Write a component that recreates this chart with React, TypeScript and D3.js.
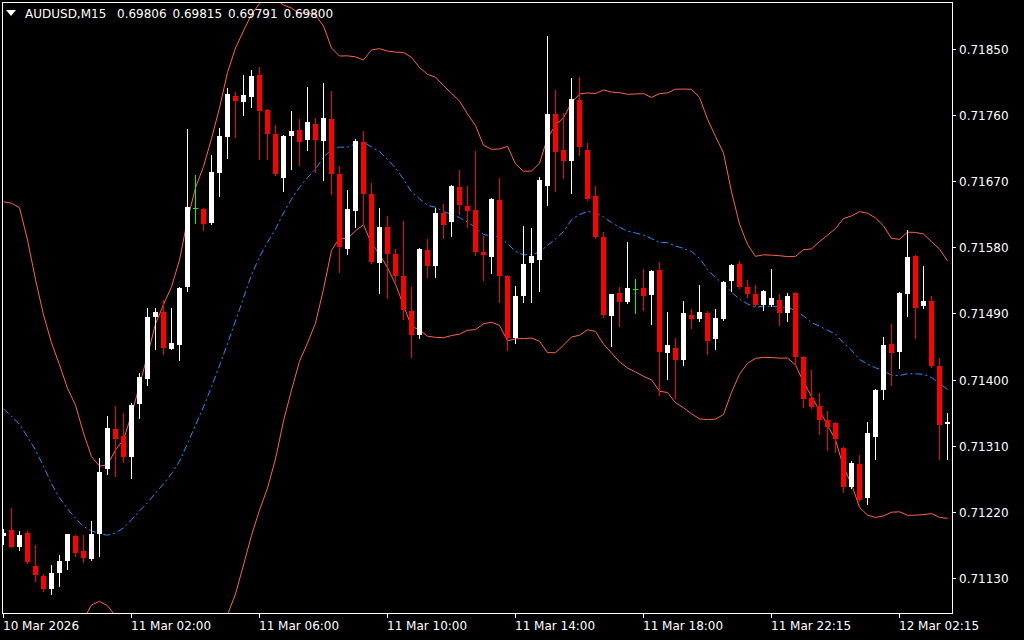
import React from "react";
import * as d3 from "d3";

const symbolTitle = "AUDUSD,M15";
const titleValues = ["0.69806", "0.69815", "0.69791", "0.69800"];

const opens = [0.71187,0.71195,0.71172,0.71191,0.71146,0.71132,0.71115,0.71136,0.71153,0.71187,0.71166,0.71156,0.71190,0.71278,0.71333,0.71323,0.71294,0.71367,0.71401,0.71485,0.71492,0.71442,0.71447,0.71526,0.71633,0.71632,0.71613,0.71681,0.71730,0.71786,0.71778,0.71785,0.71815,0.71767,0.71734,0.71675,0.71731,0.71740,0.71726,0.71748,0.71725,0.71755,0.71680,0.71578,0.71629,0.71723,0.71653,0.71558,0.71608,0.71571,0.71541,0.71493,0.71461,0.71576,0.71554,0.71627,0.71615,0.71662,0.71636,0.71631,0.71573,0.71567,0.71644,0.71541,0.71457,0.71514,0.71558,0.71563,0.71664,0.71761,0.71712,0.71697,0.71781,0.71712,0.71650,0.71594,0.71487,0.71518,0.71505,0.71523,0.71525,0.71515,0.71549,0.71436,0.71443,0.71426,0.71488,0.71483,0.71490,0.71455,0.71483,0.71534,0.71557,0.71526,0.71516,0.71501,0.71501,0.71508,0.71490,0.71518,0.71431,0.71375,0.71364,0.71345,0.71341,0.71307,0.71254,0.71285,0.71238,0.71322,0.71386,0.71448,0.71438,0.71516,0.71568,0.71500,0.71507,0.71418,0.71340];
const highs = [0.71196,0.71225,0.71194,0.71194,0.71174,0.71135,0.71147,0.71161,0.71190,0.71188,0.71188,0.71207,0.71293,0.71350,0.71364,0.71354,0.71368,0.71409,0.71497,0.71497,0.71508,0.71497,0.71526,0.71741,0.71678,0.71633,0.71706,0.71743,0.71797,0.71792,0.71815,0.71821,0.71826,0.71768,0.71746,0.71733,0.71766,0.71755,0.71798,0.71756,0.71804,0.71793,0.71691,0.71658,0.71727,0.71739,0.71667,0.71633,0.71623,0.71578,0.71616,0.71526,0.71579,0.71591,0.71633,0.71639,0.71665,0.71685,0.71664,0.71711,0.71595,0.71647,0.71674,0.71542,0.71527,0.71609,0.71606,0.71676,0.71868,0.71794,0.71763,0.71810,0.71812,0.71722,0.71664,0.71601,0.71517,0.71526,0.71587,0.71537,0.71550,0.71549,0.71560,0.71492,0.71456,0.71507,0.71496,0.71529,0.71493,0.71496,0.71534,0.71557,0.71561,0.71535,0.71529,0.71522,0.71550,0.71516,0.71518,0.71519,0.71432,0.71413,0.71382,0.71357,0.71342,0.71308,0.71289,0.71297,0.71342,0.71387,0.71458,0.71476,0.71519,0.71604,0.71569,0.71554,0.71514,0.71429,0.71354];
const lows = [0.71176,0.71172,0.71168,0.71150,0.71125,0.71112,0.71108,0.71119,0.71142,0.71160,0.71151,0.71154,0.71160,0.71271,0.71269,0.71288,0.71266,0.71348,0.71392,0.71442,0.71435,0.71441,0.71427,0.71521,0.71613,0.71603,0.71612,0.71650,0.71702,0.71730,0.71760,0.71771,0.71700,0.71700,0.71678,0.71656,0.71687,0.71692,0.71713,0.71682,0.71672,0.71652,0.71547,0.71571,0.71607,0.71610,0.71559,0.71518,0.71511,0.71534,0.71483,0.71431,0.71457,0.71540,0.71540,0.71592,0.71596,0.71626,0.71608,0.71569,0.71536,0.71545,0.71506,0.71440,0.71450,0.71506,0.71505,0.71521,0.71638,0.71657,0.71675,0.71654,0.71706,0.71645,0.71592,0.71485,0.71446,0.71473,0.71504,0.71491,0.71495,0.71476,0.71379,0.71401,0.71375,0.71420,0.71470,0.71480,0.71435,0.71442,0.71481,0.71520,0.71525,0.71512,0.71500,0.71495,0.71500,0.71474,0.71480,0.71420,0.71362,0.71361,0.71326,0.71304,0.71301,0.71247,0.71252,0.71234,0.71230,0.71292,0.71374,0.71393,0.71416,0.71487,0.71457,0.71498,0.71417,0.71292,0.71292];
const closes = [0.71191,0.71172,0.71188,0.71151,0.71134,0.71115,0.71136,0.71153,0.71189,0.71164,0.71157,0.71189,0.71274,0.71334,0.71319,0.71295,0.71365,0.71403,0.71485,0.71492,0.71443,0.71450,0.71525,0.71635,0.71633,0.71612,0.71682,0.71732,0.71789,0.71779,0.71787,0.71813,0.71765,0.71734,0.71680,0.71732,0.71739,0.71724,0.71750,0.71726,0.71756,0.71680,0.71580,0.71632,0.71725,0.71652,0.71560,0.71608,0.71571,0.71541,0.71494,0.71461,0.71578,0.71555,0.71627,0.71611,0.71664,0.71637,0.71629,0.71574,0.71569,0.71646,0.71541,0.71457,0.71514,0.71557,0.71568,0.71672,0.71761,0.71710,0.71698,0.71782,0.71717,0.71646,0.71594,0.71488,0.71516,0.71506,0.71525,0.71523,0.71514,0.71548,0.71438,0.71447,0.71427,0.71490,0.71483,0.71492,0.71453,0.71484,0.71533,0.71556,0.71526,0.71516,0.71501,0.71520,0.71511,0.71490,0.71514,0.71431,0.71373,0.71362,0.71345,0.71335,0.71319,0.71254,0.71286,0.71236,0.71327,0.71386,0.71447,0.71436,0.71518,0.71567,0.71498,0.71507,0.71419,0.71338,0.71342];

// Bollinger band values for the first 19 bars (their history lies left of the chart)
const upperHead = [0.71642,0.71640,0.71634,0.71590,0.71536,0.71488,0.71450,0.71420,0.71388,0.71365,0.71327,0.71295,0.71282,0.71284,0.71304,0.71318,0.71352,0.71392,0.71433];
const middleHead = [0.71360,0.71350,0.71339,0.71322,0.71304,0.71282,0.71258,0.71239,0.71224,0.71211,0.71200,0.71194,0.71190,0.71188,0.71191,0.71198,0.71209,0.71221,0.71232];
const lowerHead = [0.71078,0.71060,0.71044,0.71054,0.71072,0.71076,0.71066,0.71058,0.71060,0.71057,0.71073,0.71093,0.71098,0.71092,0.71078,0.71078,0.71066,0.71050,0.71031];
const bbPeriod = 20;
const bbDev = 2;

const priceTicks = [0.7185, 0.7176, 0.7167, 0.7158, 0.7149, 0.714, 0.7131, 0.7122, 0.7113];
const timeLabels = ["10 Mar 2026", "11 Mar 02:00", "11 Mar 06:00", "11 Mar 10:00", "11 Mar 14:00", "11 Mar 18:00", "11 Mar 22:15", "12 Mar 02:15"];
const timeLabelBars = [0, 16, 32, 48, 64, 80, 96, 112];

const FONT = "DejaVu Sans";

export default function App() {
  const n = closes.length;
  const x = d3.scaleLinear().domain([0, n - 1]).range([3, 947]);
  const y = d3.scaleLinear().domain([0.7113, 0.7185]).range([577.8, 49]);

  const upper: number[] = [];
  const middle: number[] = [];
  const lower: number[] = [];
  for (let i = 0; i < n; i++) {
    if (i < bbPeriod - 1) {
      upper.push(upperHead[i]);
      middle.push(middleHead[i]);
      lower.push(lowerHead[i]);
    } else {
      const win = closes.slice(i - bbPeriod + 1, i + 1);
      const m = d3.mean(win) as number;
      const sd = Math.sqrt(d3.mean(win.map((v) => (v - m) * (v - m))) as number);
      upper.push(m + bbDev * sd);
      middle.push(m);
      lower.push(m - bbDev * sd);
    }
  }
  const line = d3
    .line<number>()
    .x((_, i) => x(i) + 0.5)
    .y((v) => y(v));

  const candles = closes.map((c, i) => {
    const o = opens[i];
    const cx = x(i);
    const color = c > o ? "#FFFFFF" : c < o ? "#FF0000" : "#00FF00";
    const top = Math.round(y(Math.max(o, c)));
    const bot = Math.round(y(Math.min(o, c)));
    const hy = Math.round(y(highs[i]));
    const ly = Math.round(y(lows[i]));
    return (
      <g key={i}>
        <line x1={cx + 0.5} x2={cx + 0.5} y1={hy} y2={ly + 1} stroke={color} strokeWidth={1} />
        <rect x={cx - 2} y={top} width={5} height={Math.max(1, bot - top)} fill={color} />
      </g>
    );
  });

  return (
    <div style={{ position: "fixed", left: 0, top: 0, width: 1024, height: 640, background: "#000" }}>
      <svg width={1024} height={640} style={{ display: "block" }} shapeRendering="crispEdges">
        <rect x={0} y={0} width={1024} height={640} fill="#000" />
        <defs>
          <clipPath id="plot">
            <rect x={3} y={3} width={949} height={610} />
          </clipPath>
        </defs>
        <g clipPath="url(#plot)">
          <path d={line(upper) || ""} fill="none" stroke="#FF6347" strokeWidth={1} shapeRendering="auto" />
          <path d={line(lower) || ""} fill="none" stroke="#FF6347" strokeWidth={1} shapeRendering="auto" />
          <path d={line(middle) || ""} fill="none" stroke="#1E90FF" strokeWidth={1} strokeDasharray="7,3,2,3" shapeRendering="auto" />
          {candles}
        </g>
        <rect x={2.5} y={2.5} width={950} height={611} fill="none" stroke="#FFFFFF" strokeWidth={1} />
        {priceTicks.map((p, i) => {
          const ty = Math.round(y(p));
          return (
            <g key={"p" + i}>
              <line x1={953} x2={956} y1={ty + 0.5} y2={ty + 0.5} stroke="#FFFFFF" />
              <text x={959} y={ty + 4.5} fill="#FFFFFF" fontFamily={FONT} fontSize={12} shapeRendering="auto">
                {p.toFixed(5)}
              </text>
            </g>
          );
        })}
        {timeLabels.map((t, i) => {
          const tx = x(timeLabelBars[i]);
          return (
            <g key={"t" + i}>
              <line x1={tx + 0.5} x2={tx + 0.5} y1={614} y2={618} stroke="#FFFFFF" />
              <text x={tx} y={630} fill="#FFFFFF" fontFamily={FONT} fontSize={12}>
                {t}
              </text>
            </g>
          );
        })}
        <polygon points="6,10 16,10 11,16" fill="#FFFFFF" shapeRendering="auto" />
        <text x={25} y={18} fill="#FFFFFF" fontFamily={FONT} fontSize={12}>
          {symbolTitle}
        </text>
        {titleValues.map((v, i) => (
          <text key={"v" + i} x={117 + i * 55.5} y={18} fill="#FFFFFF" fontFamily={FONT} fontSize={12}>
            {v}
          </text>
        ))}
      </svg>
    </div>
  );
}
